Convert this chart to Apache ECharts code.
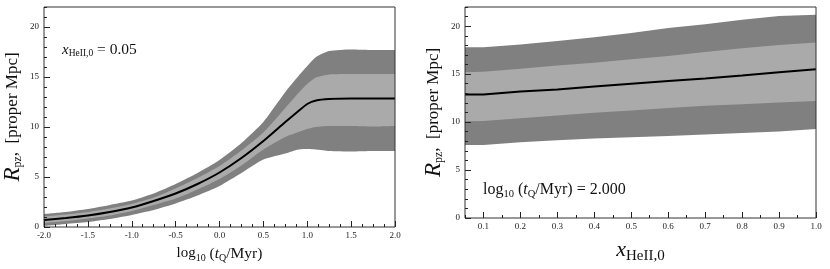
<!DOCTYPE html>
<html>
<head>
<meta charset="utf-8">
<script src="https://cdn.jsdelivr.net/npm/echarts@6/dist/echarts.min.js"></script>
<style>html,body{margin:0;padding:0;background:#fff}#c{width:830px;height:269px}</style>
</head>
<body>
<div id="c"></div>
<script>
// Left panel: R_pz vs log10(tQ/Myr), x_HeII,0 = 0.05
var tqX = [-2, -1.75, -1.5, -1.25, -1, -0.75, -0.5, -0.25, 0, 0.25, 0.5, 0.75, 0.9, 1.0, 1.1, 1.25, 1.5, 1.75, 2.0];
var tqMedian   = [0.7, 0.9, 1.15, 1.5, 1.95, 2.6, 3.35, 4.3, 5.45, 6.9, 8.6, 10.5, 11.6, 12.3, 12.65, 12.8, 12.85, 12.85, 12.85];
var tqInnerTop = [1.05, 1.25, 1.5, 1.85, 2.3, 2.95, 3.85, 4.9, 6.1, 7.65, 9.45, 11.9, 13.4, 14.3, 14.95, 15.25, 15.3, 15.3, 15.3];
var tqInnerBot = [0.4, 0.6, 0.85, 1.15, 1.6, 2.2, 2.85, 3.75, 4.8, 6.15, 7.75, 9.0, 9.5, 9.8, 10.0, 10.1, 10.1, 10.05, 10.1];
var tqOuterTop = [1.3, 1.5, 1.8, 2.2, 2.65, 3.35, 4.3, 5.4, 6.7, 8.4, 10.5, 13.5, 15.1, 16.1, 17.0, 17.6, 17.75, 17.7, 17.7];
var tqOuterBot = [0.1, 0.3, 0.5, 0.8, 1.2, 1.7, 2.35, 3.15, 4.1, 5.4, 6.75, 7.35, 7.75, 7.8, 7.75, 7.6, 7.55, 7.6, 7.6];

// Right panel: R_pz vs x_HeII,0, log10(tQ/Myr) = 2.000
var heX = [0.05, 0.1, 0.2, 0.3, 0.4, 0.5, 0.6, 0.7, 0.8, 0.9, 1.0];
var heMedian   = [12.88, 12.88, 13.18, 13.4, 13.7, 14.0, 14.28, 14.55, 14.85, 15.2, 15.5];
var heOuterTop = [17.8, 17.8, 18.1, 18.45, 18.85, 19.3, 19.8, 20.2, 20.66, 21.06, 21.2];
var heInnerTop = [15.2, 15.25, 15.55, 15.9, 16.2, 16.55, 16.9, 17.3, 17.7, 18.05, 18.3];
var heInnerBot = [10.1, 10.12, 10.4, 10.7, 10.97, 11.2, 11.47, 11.7, 11.87, 12.04, 12.2];
var heOuterBot = [7.6, 7.62, 7.9, 8.1, 8.3, 8.43, 8.56, 8.7, 8.87, 9.03, 9.27];

// Tick labels
var leftXTicks = [-2, -1.5, -1, -0.5, 0, 0.5, 1, 1.5, 2];
var rightXTicks = [0.1, 0.2, 0.3, 0.4, 0.5, 0.6, 0.7, 0.8, 0.9, 1.0];
var yTicks = [0, 5, 10, 15, 20];

var FONT = 'Liberation Serif';
var DARK = '#808080', LIGHT = '#aaaaaa';

function pairs(xs, ys) { return xs.map(function (x, i) { return [x, ys[i]]; }); }

// Layered fills down to the axis minimum: outer top (dark), inner top (light),
// inner bottom (dark), outer bottom (white) -> visible bands between the curves.
function bandSeries(xs, ob, ib, it, ot, med, xi, yi, sm) {
  function fill(ys, color, z) {
    return { type: 'line', xAxisIndex: xi, yAxisIndex: yi, symbol: 'none', smooth: sm, data: pairs(xs, ys),
      lineStyle: { width: 0, opacity: 0 }, areaStyle: { color: color, opacity: 1, origin: 'start' }, silent: true, z: z };
  }
  return [
    fill(ot, DARK, 1), fill(it, LIGHT, 1.1), fill(ib, DARK, 1.2), fill(ob, '#ffffff', 1.3),
    { type: 'line', xAxisIndex: xi, yAxisIndex: yi, symbol: 'none', smooth: sm, data: pairs(xs, med),
      lineStyle: { color: '#000', width: 2 }, z: 3, silent: true }
  ];
}

var tickLabel = { fontFamily: FONT, fontSize: 9, color: '#222' };
var tickLine = { color: '#222', width: 1 };

function minorAxisX(grid, min, max, interval) {
  return { type: 'value', gridIndex: grid, min: min, max: max, interval: interval, position: 'bottom', z: 10,
    axisLine: { show: false, onZero: false }, splitLine: { show: false }, axisLabel: { show: false },
    axisTick: { show: true, inside: true, length: 3, lineStyle: tickLine } };
}
function minorAxisY(grid) {
  return { type: 'value', gridIndex: grid, min: 0, max: 22, interval: 1, position: 'left', z: 10,
    axisLine: { show: false, onZero: false }, splitLine: { show: false }, axisLabel: { show: false },
    axisTick: { show: true, inside: true, length: 3, lineStyle: tickLine } };
}
function majorAxisY(grid) {
  return { type: 'value', gridIndex: grid, min: 0, max: 22, position: 'left', z: 10,
    axisLine: { show: false, onZero: false }, splitLine: { show: false },
    axisTick: { show: true, inside: true, length: 6, customValues: yTicks, lineStyle: tickLine },
    axisLabel: Object.assign({ customValues: yTicks, margin: 5, formatter: function (v) { return String(v); } }, tickLabel),
    name: '{i|R}{s|pz}{n|,  [proper Mpc]}', nameLocation: 'middle', nameGap: 20,
    nameTextStyle: { fontFamily: FONT, color: '#111', rich: {
      i: { fontFamily: FONT, fontStyle: 'italic', fontSize: 23, color: '#111', verticalAlign: 'middle' },
      s: { fontFamily: FONT, fontSize: 12, color: '#111', padding: [11, 0, 0, 0], verticalAlign: 'middle' },
      n: { fontFamily: FONT, fontSize: 17, color: '#111', verticalAlign: 'middle' } } }
  };
}

var option = {
  animation: false,
  backgroundColor: '#fff',
  grid: [
    { left: 44, right: 435, top: 7, bottom: 42, show: true, borderColor: '#333', borderWidth: 1, backgroundColor: 'transparent', z: 5 },
    { left: 465, right: 14, top: 7, bottom: 42, show: true, borderColor: '#333', borderWidth: 1, backgroundColor: 'transparent', z: 5 }
  ],
  xAxis: [
    { type: 'value', gridIndex: 0, min: -2, max: 2, interval: 0.5, position: 'bottom', z: 10,
      axisLine: { show: false, onZero: false }, splitLine: { show: false },
      axisTick: { show: true, inside: true, length: 6, lineStyle: tickLine },
      minorTick: { show: true, splitNumber: 4, length: 3, lineStyle: tickLine },
      axisLabel: Object.assign({ margin: 4, formatter: function (v) { return v.toFixed(1); } }, tickLabel),
      name: 'log{s|10}{n| (}{i|t}{s|Q}{n|/Myr)}', nameLocation: 'middle', nameGap: 17,
      nameTextStyle: { fontFamily: FONT, fontSize: 15, color: '#111', rich: {
        n: { fontFamily: FONT, fontSize: 15.5, color: '#111', verticalAlign: 'middle' },
        i: { fontFamily: FONT, fontStyle: 'italic', fontSize: 15.5, color: '#111', verticalAlign: 'middle' },
        s: { fontFamily: FONT, fontSize: 10, color: '#111', padding: [9, 0, 0, 0], verticalAlign: 'middle' } } } },
    minorAxisX(1, 0.05, 1.0, 0.05),
    { type: 'value', gridIndex: 1, min: 0.05, max: 1.0, position: 'bottom', z: 10,
      axisLine: { show: false, onZero: false }, splitLine: { show: false },
      axisTick: { show: true, inside: true, length: 6, customValues: rightXTicks, lineStyle: tickLine },
      axisLabel: Object.assign({ margin: 4, customValues: rightXTicks, formatter: function (v) { return v.toFixed(1); } }, tickLabel),
      name: '{i|x}{s|HeII,0}', nameLocation: 'middle', nameGap: 19,
      nameTextStyle: { fontFamily: FONT, color: '#111', rich: {
        i: { fontFamily: FONT, fontStyle: 'italic', fontSize: 22, color: '#111', verticalAlign: 'middle' },
        s: { fontFamily: FONT, fontSize: 15, color: '#111', padding: [12, 0, 0, 0], verticalAlign: 'middle' } } } }
  ],
  yAxis: [minorAxisY(0), majorAxisY(0), minorAxisY(1), majorAxisY(1)],
  graphic: [
    { type: 'text', left: 62, top: 42, z: 10, silent: true,
      style: { text: '{i|x}{s|HeII,0}{n| = 0.05}', fontFamily: FONT, fill: '#111', rich: {
        i: { fontFamily: FONT, fontStyle: 'italic', fontSize: 15, fill: '#111', verticalAlign: 'middle' },
        s: { fontFamily: FONT, fontSize: 9.5, fill: '#111', padding: [7, 0, 0, 0], verticalAlign: 'middle' },
        n: { fontFamily: FONT, fontSize: 15.5, fill: '#111', verticalAlign: 'middle' } } } },
    { type: 'text', left: 483, top: 182, z: 10, silent: true,
      style: { text: 'log{s|10}{n| (}{i|t}{s|Q}{n|/Myr) = 2.000}', fontFamily: FONT, fontSize: 16, fill: '#111', rich: {
        n: { fontFamily: FONT, fontSize: 16, fill: '#111', verticalAlign: 'middle' },
        i: { fontFamily: FONT, fontStyle: 'italic', fontSize: 16, fill: '#111', verticalAlign: 'middle' },
        s: { fontFamily: FONT, fontSize: 10.5, fill: '#111', padding: [9, 0, 0, 0], verticalAlign: 'middle' } } } }
  ],
  series: [].concat(
    bandSeries(tqX, tqOuterBot, tqInnerBot, tqInnerTop, tqOuterTop, tqMedian, 0, 1, 0.2),
    bandSeries(heX, heOuterBot, heInnerBot, heInnerTop, heOuterTop, heMedian, 2, 3, 0)
  )
};

var chart = echarts.init(document.getElementById('c'), null, { renderer: 'canvas' });
chart.setOption(option);
</script>
</body>
</html>
